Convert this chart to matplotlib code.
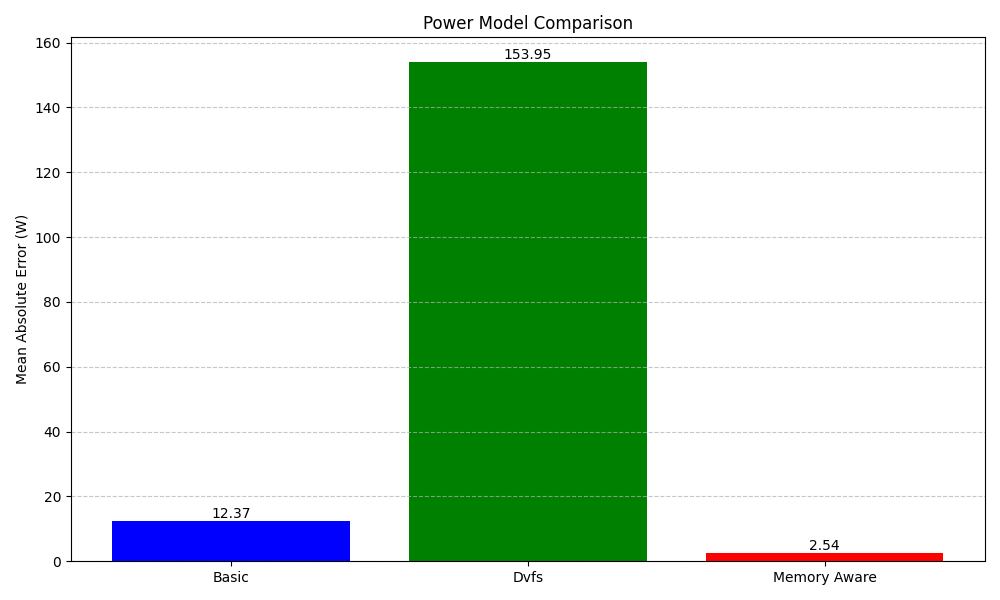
import matplotlib
matplotlib.use("Agg")
import matplotlib.pyplot as plt

models = ['Basic', 'Dvfs', 'Memory Aware']
mae = [12.37, 153.95, 2.54]
colors = ['blue', 'green', 'red']

fig, ax = plt.subplots(figsize=(10, 6))
bars = ax.bar(models, mae, color=colors)
for b, v in zip(bars, mae):
    ax.text(b.get_x() + b.get_width() / 2, b.get_height(), f'{v:.2f}',
            ha='center', va='bottom')
ax.set_title('Power Model Comparison')
ax.set_ylabel('Mean Absolute Error (W)')
ax.grid(axis='y', linestyle='--', alpha=0.7)
plt.tight_layout()
plt.savefig('out.png', dpi=100)
